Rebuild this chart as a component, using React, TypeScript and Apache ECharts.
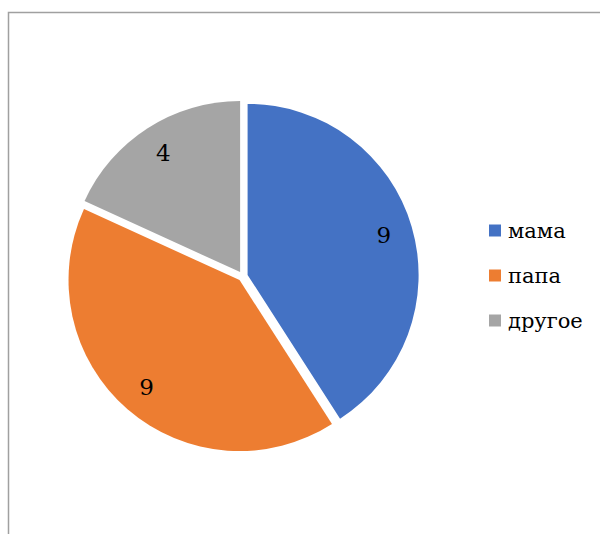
import React, { useEffect, useRef } from "react";
import * as echarts from "echarts";

const categories = ["мама", "папа", "другое"];
const values = [9, 9, 4];
const colors = ["#4472C4", "#ED7D31", "#A5A5A5"];

const SERIF = "DejaVu Serif";

export default function App() {
  const ref = useRef<HTMLDivElement>(null);
  useEffect(() => {
    if (!ref.current) return;
    const chart = echarts.init(ref.current, undefined, { renderer: "svg" });
    const center = [242.8, 276.3];
    const base = categories.map((name, i) => ({
      name,
      value: values[i],
      selected: true,
      itemStyle: { color: colors[i] },
    }));
    chart.setOption({
      animation: false,
      backgroundColor: "#ffffff",
      textStyle: { fontFamily: SERIF },
      graphic: [
        {
          type: "polyline",
          shape: { points: [[8.5, 534], [8.5, 12.5], [600, 12.5]] },
          style: { stroke: "#a0a0a0", lineWidth: 1.5, fill: "none" },
          silent: true,
        },
      ],
      legend: {
        orient: "vertical",
        left: 489,
        top: 220,
        padding: 0,
        itemWidth: 12,
        itemHeight: 12,
        itemGap: 24,
        icon: "rect",
        selectedMode: false,
        data: categories.map((name, i) => ({ name, itemStyle: { color: colors[i] } })),
        textStyle: {
          fontFamily: SERIF,
          fontSize: 21,
          lineHeight: 21,
          color: "#000000",
          padding: [0, 0, 0, 2],
        },
      },
      series: [
        {
          type: "pie",
          center,
          radius: [0, 171],
          startAngle: 90,
          clockwise: true,
          selectedMode: "multiple",
          selectedOffset: 5,
          silent: true,
          label: { show: false },
          labelLine: { show: false },
          itemStyle: { borderWidth: 0 },
          emphasis: { disabled: true },
          data: base,
        },
        {
          type: "pie",
          center,
          radius: [107, 171],
          startAngle: 90,
          clockwise: true,
          selectedMode: "multiple",
          selectedOffset: 5,
          silent: true,
          emphasis: { disabled: true },
          itemStyle: { color: "rgba(0,0,0,0)", borderWidth: 0 },
          label: {
            show: true,
            position: "inside",
            formatter: "{c}",
            fontFamily: SERIF,
            fontSize: 23,
            color: "#000000",
          },
          labelLine: { show: false },
          data: categories.map((name, i) => ({
            name,
            value: values[i],
            selected: true,
            itemStyle: { color: "rgba(0,0,0,0)" },
          })),
        },
      ],
    });
    return () => chart.dispose();
  }, []);
  return (
    <div
      ref={ref}
      style={{ position: "fixed", left: 0, top: 0, width: 600, height: 534 }}
    />
  );
}
